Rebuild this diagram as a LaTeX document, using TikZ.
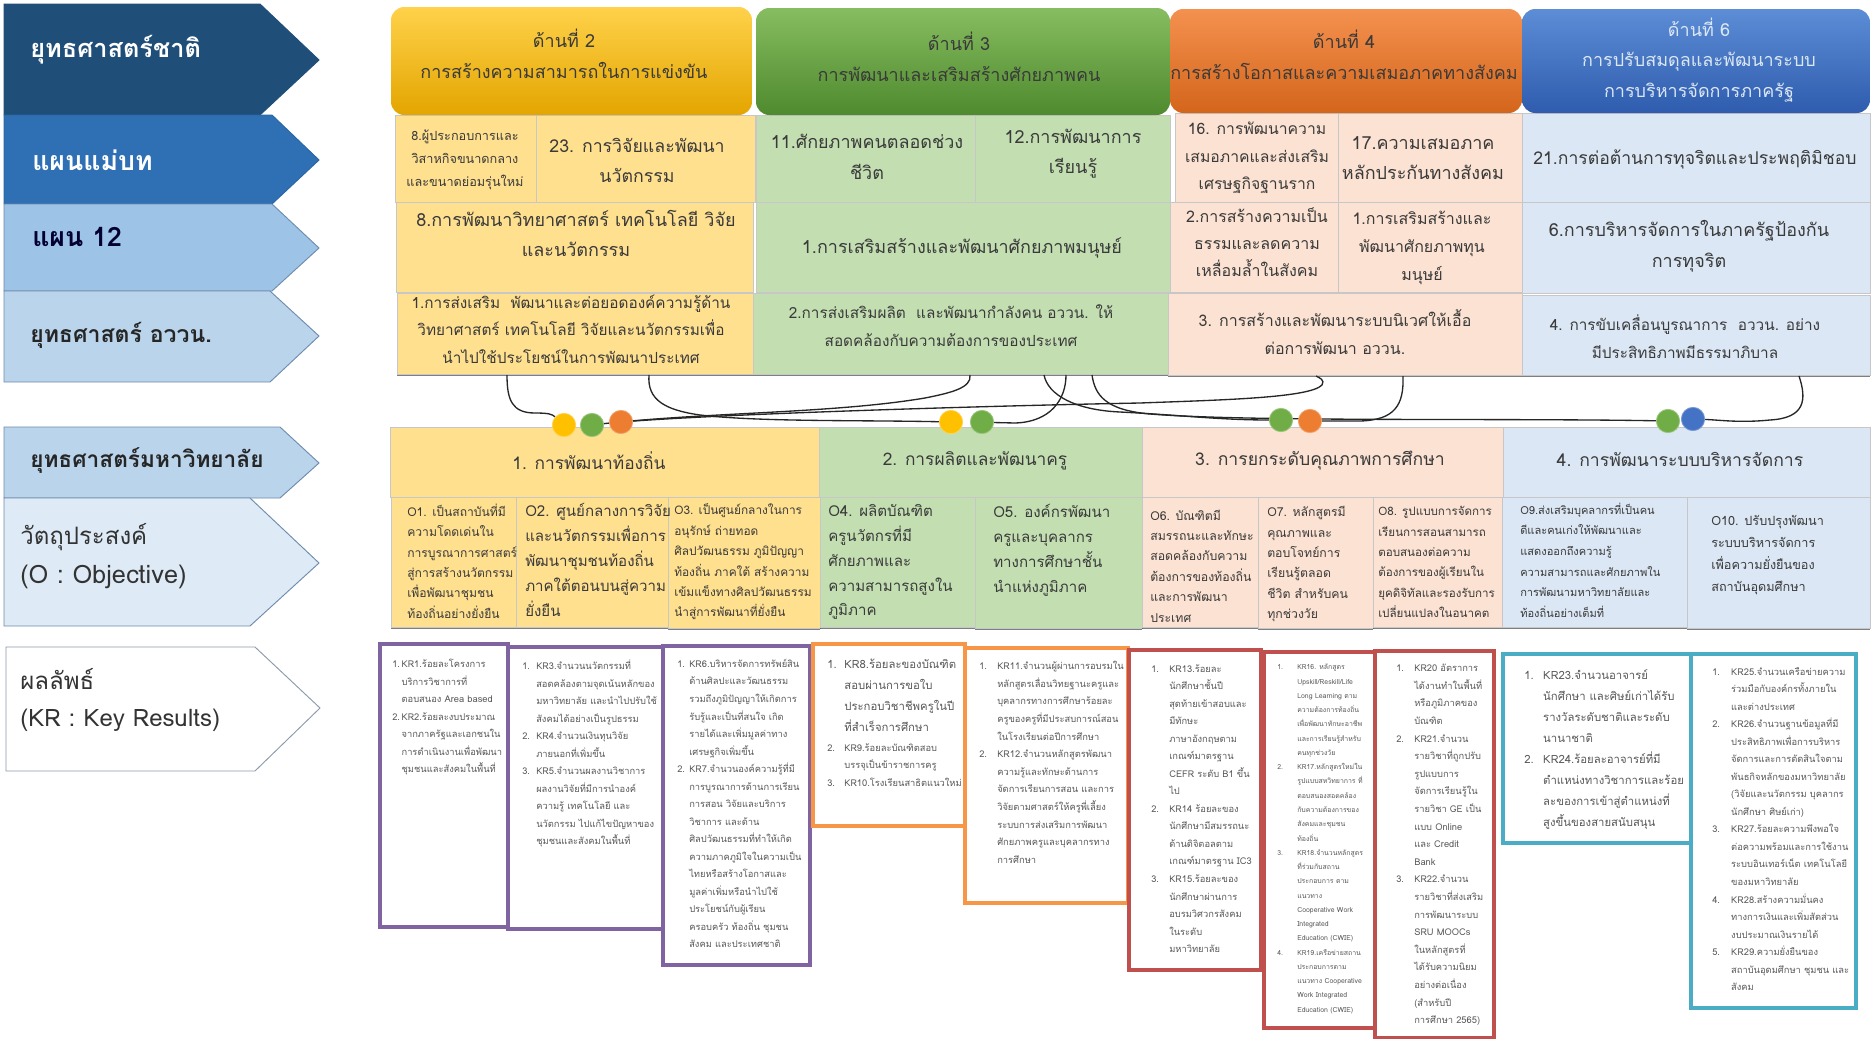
\documentclass[tikz,border=0pt]{standalone}
\usepackage{fontspec}
\usetikzlibrary{fit,shadows}
\pgfdeclarelayer{front}
\pgfsetlayers{main,front}
\setmainfont[Script=Thai]{Loma}
\newcommand\Fz[2]{\fontsize{#1}{#2}\selectfont}
\newlength\kind
\newcommand\KI[1]{\makebox[\kind][l]{#1}}
\newcommand\KC{\hspace*{\kind}}
\definecolor{tdark}{HTML}{3A3A3A}
\definecolor{kgray}{HTML}{595959}
\definecolor{cy}{HTML}{FFE08F}
\definecolor{cg}{HTML}{C3DFB2}
\definecolor{co}{HTML}{FBE2D2}
\definecolor{cb}{HTML}{DBE7F4}
\definecolor{kp}{HTML}{8064A2}
\definecolor{ko}{HTML}{F79646}
\definecolor{kr}{HTML}{C0504D}
\definecolor{kt}{HTML}{4BACC6}
\definecolor{ch1}{HTML}{1F4E79}
\definecolor{ch2}{HTML}{2E70B3}
\definecolor{ch2b}{HTML}{2A66A3}
\definecolor{ch3}{HTML}{9DC3E6}
\definecolor{ch4}{HTML}{BAD4EC}
\definecolor{ch6}{HTML}{DEEBF7}
\definecolor{chb}{HTML}{6E8CAD}
\definecolor{ch7b}{HTML}{8C9AAB}
\definecolor{hya}{HTML}{FFD24A}
\definecolor{hyb}{HTML}{FFC30F}
\definecolor{hyc}{HTML}{E3A500}
\definecolor{hga}{HTML}{86BD60}
\definecolor{hgb}{HTML}{70AD47}
\definecolor{hgc}{HTML}{4F8A2E}
\definecolor{hoa}{HTML}{F4914F}
\definecolor{hob}{HTML}{ED7D31}
\definecolor{hoc}{HTML}{D4651B}
\definecolor{hba}{HTML}{5C8DD6}
\definecolor{hbb}{HTML}{4472C4}
\definecolor{hbc}{HTML}{2F5CAE}
\definecolor{dtY}{HTML}{FFC000}
\tikzset{
  cell/.style={inner sep=0pt,outer sep=0pt,draw=black!22,line width=0.4pt,fill=#1},
  shd/.style={drop shadow={shadow xshift=0pt,shadow yshift=-1.5pt,fill=black,opacity=0.5}},
  head/.style n args={3}{inner sep=0pt,outer sep=0pt,rounded corners=10pt,top color=#1,middle color=#2,bottom color=#3},
  tc/.style 2 args={font=\Fz{#1}{#2},align=center,inner sep=0pt,text=tdark},
  tl/.style 2 args={font=\Fz{#1}{#2},align=left,inner sep=0pt,text=tdark,anchor=west},
  krbox/.style={inner sep=0pt,outer sep=0pt,draw=#1,line width=3pt,fill=white},
  krt/.style n args={3}{font=\Fz{#1}{#2},align=left,inner sep=0pt,text=kgray,anchor=north west,execute at begin node={\setlength{\kind}{#3}}},
  dot/.style={circle,inner sep=0pt,minimum size=17.5pt,fill=#1,draw=#1!70!white,line width=0.6pt},
  lnk/.style={line width=1pt,black!85},
  chev/.style 2 args={fill=#1,draw=#2,line width=0.7pt},
  lab/.style={inner sep=0pt,anchor=west,text=#1},
}
\begin{document}
\begin{tikzpicture}[x=0.75pt,y=-0.75pt]
\useasboundingbox (0,0) rectangle (1871,1039);
\fill[white] (0,0) rectangle (1871,1039);
% left chevrons
\draw[chev={ch1}{ch1}] (4,4) -- (260,4) -- (319,60) -- (260,115) -- (4,115) -- cycle;
\draw[chev={ch2}{ch2b}] (4,115) -- (272,115) -- (319,160) -- (272,204) -- (4,204) -- cycle;
\draw[chev={ch3}{chb}] (4,204) -- (272,204) -- (319,248) -- (272,291) -- (4,291) -- cycle;
\draw[chev={ch4}{chb}] (4,291) -- (270,291) -- (319,336) -- (270,382) -- (4,382) -- cycle;
\draw[chev={ch4}{chb}] (4,427) -- (280,427) -- (319,463) -- (280,498) -- (4,498) -- cycle;
\draw[chev={ch6}{chb}] (4,498) -- (250,498) -- (319,563) -- (250,626) -- (4,626) -- cycle;
\draw[chev={white}{ch7b}] (6,647) -- (255,647) -- (320,708) -- (255,771) -- (6,771) -- cycle;
\node[lab=white,font=\Fz{19}{19}\bfseries] (l1) at (30,50) {ยุทธศาสตร์ชาติ};
\node[lab=white,font=\Fz{20}{20}\bfseries] (l2) at (32,160) {แผนแม่บท};
\node[lab=black!80!blue,font=\Fz{20}{20}\bfseries] (l3) at (32,237) {แผน 12};
\node[lab=black!85,font=\Fz{17.3}{18}\bfseries] (l4) at (30,335) {ยุทธศาสตร์ อววน.};
\node[lab=black!85,font=\Fz{17}{18}\bfseries] (l5) at (30,460) {ยุทธศาสตร์มหาวิทยาลัย};
\node[lab=black!80,font=\Fz{18}{18}] (l6a) at (20,537) {วัตถุประสงค์};
\node[lab=black!80,font=\Fz{19}{19}] (l6b) at (20,577) {(O : Objective)};
\node[lab=black!80,font=\Fz{18}{18}] (l7a) at (20,679) {ผลลัพธ์};
\node[lab=black!80,font=\Fz{18}{18}] (l7b) at (20,720) {(KR : Key Results)};
% row 3 / 2 / 1
\node[fit={(397,293)(753,374)},cell=cy,shd] (r3y) {};
\node[fit={(753,293)(1168,374)},cell=cg,shd] (r3g) {};
\node[fit={(1168,293)(1522,375)},cell=co,shd] (r3o) {};
\node[fit={(1522,295)(1870,375)},cell=cb,shd] (r3b) {};
\node[fit={(396,202)(753,292)},cell=cy] (r2y) {};
\node[fit={(756,202)(1170,292)},cell=cg] (r2g) {};
\node[fit={(1170,202)(1338,292)},cell=co] (r2oa) {};
\node[fit={(1338,202)(1522,292)},cell=co] (r2ob) {};
\node[fit={(1522,202)(1870,293)},cell=cb] (r2b) {};
\node[fit={(395,115)(536,202)},cell=cy] (r1ya) {};
\node[fit={(536,115)(755,202)},cell=cy] (r1yb) {};
\node[fit={(756,115)(975,202)},cell=cg] (r1ga) {};
\node[fit={(975,115)(1170,202)},cell=cg] (r1gb) {};
\node[fit={(1175,113)(1338,202)},cell=co] (r1oa) {};
\node[fit={(1338,113)(1522,202)},cell=co] (r1ob) {};
\node[fit={(1522,113)(1870,202)},cell=cb] (r1b) {};
% headers
\node[fit={(391,7)(752,115)},head={hya}{hyb}{hyc}] (hy) {};
\node[fit={(756,8)(1170,115)},head={hga}{hgb}{hgc}] (hg) {};
\node[fit={(1170,9)(1522,113)},head={hoa}{hob}{hoc}] (ho) {};
\node[fit={(1522,9)(1870,113)},head={hba}{hbb}{hbc}] (hb) {};
\node[tc={13.5}{23}] (thy) at (564,54) {ด้านที่ 2\\การสร้างความสามารถในการแข่งขัน};
\node[tc={13.5}{23}] (thg) at (959,57) {ด้านที่ 3\\การพัฒนาและเสริมสร้างศักยภาพคน};
\node[tc={13.5}{23}] (tho) at (1344,55) {ด้านที่ 4\\การสร้างโอกาสและความเสมอภาคทางสังคม};
\node[tc={13.5}{23},text=cb] (thb) at (1699,60) {ด้านที่ 6\\การปรับสมดุลและพัฒนาระบบ\\การบริหารจัดการภาครัฐ};
% row 1 text
\node[tc={9.5}{17.5}] (t1) at (465,160) {8.ผู้ประกอบการและ\\วิสาหกิจขนาดกลาง\\และขนาดย่อมรุ่นใหม่};
\node[tc={13.3}{22.5}] (t2) at (637,160) {23. การวิจัยและพัฒนา\\นวัตกรรม};
\node[tc={13.5}{23}] (t3) at (867,157) {11.ศักยภาพคนตลอดช่วง\\ชีวิต};
\node[tc={13.5}{22.5}] (t4) at (1073,154) {12.การพัฒนาการ\\เรียนรู้};
\node[tc={11.8}{20.5}] (t5) at (1257,158) {16. การพัฒนาความ\\เสมอภาคและส่งเสริม\\เศรษฐกิจฐานราก};
\node[tc={13.5}{22.5}] (t6) at (1423,158) {17.ความเสมอภาค\\หลักประกันทางสังคม};
\node[tc={13.2}{22}] (t7) at (1695,159) {21.การต่อต้านการทุจริตและประพฤติมิชอบ};
% row 2 text
\node[tc={13.5}{22.5}] (t8) at (576,233) {8.การพัฒนาวิทยาศาสตร์ เทคโนโลยี วิจัย\\และนวัตกรรม};
\node[tc={13.5}{22}] (t9) at (962,248) {1.การเสริมสร้างและพัฒนาศักยภาพมนุษย์};
\node[tc={12}{20}] (t10) at (1257,242) {2.การสร้างความเป็น\\ธรรมและลดความ\\เหลื่อมล้ำในสังคม};
\node[tc={12}{20.8}] (t11) at (1422,248) {1.การเสริมสร้างและ\\พัฒนาศักยภาพทุน\\มนุษย์};
\node[tc={13.5}{23}] (t12) at (1689,246) {6.การบริหารจัดการในภาครัฐป้องกัน\\การทุจริต};
% row 3 text
\node[tc={11.5}{20.5}] (t13) at (571,329) {1.การส่งเสริม\ \ พัฒนาและต่อยอดองค์ความรู้ด้าน\\วิทยาศาสตร์ เทคโนโลยี วิจัยและนวัตกรรมเพื่อ\\นำไปใช้ประโยชน์ในการพัฒนาประเทศ};
\node[tc={11.5}{21}] (t14) at (951,326) {2.การส่งเสริมผลิต\ \ และพัฒนากำลังคน อววน. ให้\\สอดคล้องกับความต้องการของประเทศ};
\node[tc={12}{21}] (t15) at (1335,332) {3. การสร้างและพัฒนาระบบนิเวศให้เอื้อ\\ต่อการพัฒนา อววน.};
\node[tc={11.5}{21}] (t16) at (1685,337) {4. การขับเคลื่อนบูรณาการ\ \ อววน. อย่าง\\มีประสิทธิภาพมีธรรมาภิบาล};
% strategy
\node[fit={(390,427)(819,497)},cell=cy] (sy) {};
\node[fit={(819,427)(1142,497)},cell=cg] (sg) {};
\node[fit={(1142,427)(1503,497)},cell=co] (so) {};
\node[fit={(1503,427)(1870,497)},cell=cb] (sb) {};
\node[tc={13}{20}] (ts1) at (589,461) {1. การพัฒนาท้องถิ่น};
\node[tc={13}{20}] (ts2) at (975,461) {2. การผลิตและพัฒนาครู};
\node[tc={13.2}{20}] (ts3) at (1320,461) {3. การยกระดับคุณภาพการศึกษา};
\node[tc={13.2}{20}] (ts4) at (1680,459) {4. การพัฒนาระบบบริหารจัดการ};
% objectives
\node[fit={(391,497)(516,627)},cell=cy,shd] (o1) {};
\node[fit={(516,497)(668,627)},cell=cy,shd] (o2) {};
\node[fit={(668,497)(820,628)},cell=cy,shd] (o3) {};
\node[fit={(820,497)(975,627)},cell=cg,shd] (o4) {};
\node[fit={(975,497)(1142,628)},cell=cg,shd] (o5) {};
\node[fit={(1142,497)(1258,627)},cell=co,shd] (o6) {};
\node[fit={(1258,497)(1373,628)},cell=co,shd] (o7) {};
\node[fit={(1373,497)(1502,627)},cell=co,shd] (o8) {};
\node[fit={(1502,497)(1687,627)},cell=cb,shd] (o9) {};
\node[fit={(1687,497)(1870,628)},cell=cb,shd] (o10) {};
\node[tl={9.1}{15.3}] (to1) at (407,561) {O1. เป็นสถาบันที่มี\\ความโดดเด่นใน\\การบูรณาการศาสตร์\\สู่การสร้างนวัตกรรม\\เพื่อพัฒนาชุมชน\\ท้องถิ่นอย่างยั่งยืน};
\node[tl={11.3}{18.7}] (to2) at (525,560) {O2. ศูนย์กลางการวิจัย\\และนวัตกรรมเพื่อการ\\พัฒนาชุมชนท้องถิ่น\\ภาคใต้ตอนบนสู่ความ\\ยั่งยืน};
\node[tl={8.9}{15.3}] (to3) at (674,562) {O3. เป็นศูนย์กลางในการ\\อนุรักษ์ ถ่ายทอด\\ศิลปวัฒนธรรม ภูมิปัญญา\\ท้องถิ่น ภาคใต้ สร้างความ\\เข้มแข็งทางศิลปวัฒนธรรม\\นำสู่การพัฒนาที่ยั่งยืน};
\node[tl={11.3}{18.7}] (to4) at (828,562) {O4. ผลิตบัณฑิต\\ครูนวัตกรที่มี\\ศักยภาพและ\\ความสามารถสูงใน\\ภูมิภาค};
\node[tl={11.3}{18.7}] (to5) at (993,550) {O5. องค์กรพัฒนา\\ครูและบุคลากร\\ทางการศึกษาชั้น\\นำแห่งภูมิภาค};
\node[tl={9.2}{15.3}] (to6) at (1150,566) {O6. บัณฑิตมี\\สมรรถนะและทักษะ\\สอดคล้องกับความ\\ต้องการของท้องถิ่น\\และการพัฒนา\\ประเทศ};
\node[tl={9.2}{15.3}] (to7) at (1267,564) {O7. หลักสูตรมี\\คุณภาพและ\\ตอบโจทย์การ\\เรียนรู้ตลอด\\ชีวิต สำหรับคน\\ทุกช่วงวัย};
\node[tl={8.7}{15.3}] (to8) at (1378,562) {O8. รูปแบบการจัดการ\\เรียนการสอนสามารถ\\ตอบสนองต่อความ\\ต้องการของผู้เรียนใน\\ยุคดิจิทัลและรองรับการ\\เปลี่ยนแปลงในอนาคต};
\node[tl={8.3}{15.5}] (to9) at (1520,560) {O9.ส่งเสริมบุคลากรที่เป็นคน\\ดีและคนเก่งให้พัฒนาและ\\แสดงออกถึงความรู้\\ความสามารถและศักยภาพใน\\การพัฒนามหาวิทยาลัยและ\\ท้องถิ่นอย่างเต็มที่};
\node[tl={9.5}{16.7}] (to10) at (1711,555) {O10. ปรับปรุงพัฒนา\\ระบบบริหารจัดการ\\เพื่อความยั่งยืนของ\\สถาบันอุดมศึกษา};
% dots and connectors
\begin{pgfonlayer}{front}
\node[dot=dtY] (dy1) at (564,425) {};
\node[dot=hgb] (dg1) at (592,425) {};
\node[dot=hob] (do1) at (621,422) {};
\node[dot=dtY] (dy2) at (951,422) {};
\node[dot=hgb] (dg2) at (982,422) {};
\node[dot=hgb] (dg3) at (1281,420) {};
\node[dot=hob] (do3) at (1310,421) {};
\node[dot=hgb] (dg4) at (1668,421) {};
\node[dot=hbb] (db4) at (1693,419) {};
\end{pgfonlayer}
\coordinate (pa) at (507,375);
\coordinate (pb) at (1316,376);
\coordinate (pc) at (970,375);
\coordinate (pd) at (649,375);
\coordinate (pe) at (1066,375);
\coordinate (pf) at (1044,375);
\coordinate (pg) at (1092,375);
\coordinate (pi) at (1403,376);
\coordinate (ph) at (1799,376);
\draw[lnk] (pa) .. controls (507,400) and (512,413) .. (535,413) .. controls (548,413) and (552,414) .. (dy1);
\draw[lnk] (do1.center) .. controls (720,414) and (980,406) .. (1140,403) .. controls (1220,400) and (1310,398) .. (1322,385) .. controls (1325,380) and (1320,378) .. (pb);
\draw[lnk] (pc) .. controls (972,388) and (950,393) .. (925,398) .. controls (830,414) and (700,412) .. (dg1.center);
\draw[lnk] (pd) .. controls (647,400) and (665,410) .. (700,415) .. controls (760,422) and (860,420) .. (dy2);
\draw[lnk] (pe) .. controls (1066,400) and (1050,422) .. (1015,423) .. controls (1005,423) .. (dg2);
\draw[lnk] (pf) .. controls (1048,395) and (1075,410) .. (1120,412) .. controls (1180,415) and (1220,420) .. (dg3);
\draw[lnk] (pg) .. controls (1095,395) and (1105,410) .. (1150,414) .. controls (1250,422) and (1500,418) .. (dg4);
\draw[lnk] (pi) .. controls (1404,405) and (1395,420) .. (1360,421) .. controls (1345,421) .. (do3);
\draw[lnk] (ph) .. controls (1807,400) and (1805,418) .. (1770,420) .. controls (1740,423) and (1720,420) .. (db4);
% KR boxes
\node[fit={(380,644)(508,927)},krbox=kp] (k1) {};
\node[fit={(508,647)(663,929)},krbox=kp] (k2) {};
\node[fit={(663,646)(810,965)},krbox=kp] (k3) {};
\node[fit={(813,644)(965,826)},krbox=ko] (k4) {};
\node[fit={(965,648)(1128,903)},krbox=ko] (k5) {};
\node[fit={(1129,650)(1261,970)},krbox=kr] (k6) {};
\node[fit={(1264,652)(1375,1028)},krbox=kr] (k7) {};
\node[fit={(1375,651)(1494,1038)},krbox=kr] (k8) {};
\node[fit={(1503,654)(1691,843)},krbox=kt] (k9) {};
\node[fit={(1691,654)(1856,1008)},krbox=kt] (k10) {};
\node[krt={7}{13.1}{7pt}] (tk1) at (392,659) {\KI{1.}KR1.ร้อยละโครงการ\\\KC บริการวิชาการที่\\\KC ตอบสนอง Area based\\\KI{2.}KR2.ร้อยละงบประมาณ\\\KC จากภาครัฐและเอกชนใน\\\KC การดำเนินงานเพื่อพัฒนา\\\KC ชุมชนและสังคมในพื้นที่};
\node[krt={7}{13.1}{10.5pt}] (tk2) at (522,660) {\KI{1.}KR3.จำนวนนวัตกรรมที่\\\KC สอดคล้องตามจุดเน้นหลักของ\\\KC มหาวิทยาลัย และนำไปปรับใช้\\\KC สังคมได้อย่างเป็นรูปธรรม\\\KI{2.}KR4.จำนวนเงินทุนวิจัย\\\KC ภายนอกที่เพิ่มขึ้น\\\KI{3.}KR5.จำนวนผลงานวิชาการ\\\KC ผลงานวิจัยที่มีการนำองค์\\\KC ความรู้ เทคโนโลยี และ\\\KC นวัตกรรม ไปแก้ไขปัญหาของ\\\KC ชุมชนและสังคมในพื้นที่};
\node[krt={7}{13.15}{9pt}] (tk3) at (677,659) {\KI{1.}KR6.บริหารจัดการทรัพย์สิน\\\KC ด้านศิลปะและวัฒนธรรม\\\KC รวมถึงภูมิปัญญาให้เกิดการ\\\KC รับรู้และเป็นที่สนใจ เกิด\\\KC รายได้และเพิ่มมูลค่าทาง\\\KC เศรษฐกิจเพิ่มขึ้น\\\KI{2.}KR7.จำนวนองค์ความรู้ที่มี\\\KC การบูรณาการด้านการเรียน\\\KC การสอน วิจัยและบริการ\\\KC วิชาการ และด้าน\\\KC ศิลปวัฒนธรรมที่ทำให้เกิด\\\KC ความภาคภูมิใจในความเป็น\\\KC ไทยหรือสร้างโอกาสและ\\\KC มูลค่าเพิ่มหรือนำไปใช้\\\KC ประโยชน์กับผู้เรียน\\\KC ครอบครัว ท้องถิ่น ชุมชน\\\KC สังคม และประเทศชาติ};
\node[krt={8.5}{15.8}{12.8pt}] (tk4a) at (827,659) {\KI{1.}KR8.ร้อยละของบัณฑิต\\\KC สอบผ่านการขอใบ\\\KC ประกอบวิชาชีพครูในปี\\\KC ที่สำเร็จการศึกษา};
\node[krt={7}{13.1}{12.8pt}] (tk4b) at (827,743) {\KI{2.}KR9.ร้อยละบัณฑิตสอบ\\\KC บรรจุเป็นข้าราชการครู\\\KI{3.}KR10.โรงเรียนสาธิตแนวใหม่};
\node[krt={7}{13.2}{13.5pt}] (tk5) at (979,661) {\KI{1.}KR11.จำนวนผู้ผ่านการอบรมใน\\\KC หลักสูตรเลื่อนวิทยฐานะครูและ\\\KC บุคลากรทางการศึกษาร้อยละ\\\KC ครูของครูที่มีประสบการณ์สอน\\\KC ในโรงเรียนต่อปีการศึกษา\\\KI{2.}KR12.จำนวนหลักสูตรพัฒนา\\\KC ความรู้และทักษะด้านการ\\\KC จัดการเรียนการสอน และการ\\\KC วิจัยตามศาสตร์ให้ครูพี่เลี้ยง\\\KC ระบบการส่งเสริมการพัฒนา\\\KC ศักยภาพครูและบุคลากรทาง\\\KC การศึกษา};
\node[krt={7}{13.15}{13.5pt}] (tk6) at (1151,664) {\KI{1.}KR13.ร้อยละ\\\KC นักศึกษาชั้นปี\\\KC สุดท้ายเข้าสอบและ\\\KC มีทักษะ\\\KC ภาษาอังกฤษตาม\\\KC เกณฑ์มาตรฐาน\\\KC CEFR ระดับ B1 ขึ้น\\\KC ไป\\\KI{2.}KR14 ร้อยละของ\\\KC นักศึกษามีสมรรถนะ\\\KC ด้านดิจิตอลตาม\\\KC เกณฑ์มาตรฐาน IC3\\\KI{3.}KR15.ร้อยละของ\\\KC นักศึกษาผ่านการ\\\KC อบรมวิศวกรสังคม\\\KC ในระดับ\\\KC มหาวิทยาลัย};
\node[krt={5.2}{10.7}{15pt}] (tk7) at (1277,664) {\KI{1.}KR16. หลักสูตร\\\KC Upskill/Reskill/Life\\\KC Long Learning ตาม\\\KC ความต้องการท้องถิ่น\\\KC เพื่อพัฒนาทักษะอาชีพ\\\KC และการเรียนรู้สำหรับ\\\KC คนทุกช่วงวัย\\\KI{2.}KR17.หลักสูตรใหม่ใน\\\KC รูปแบบสหวิทยาการ ที่\\\KC ตอบสนองสอดคล้อง\\\KC กับความต้องการของ\\\KC สังคมและชุมชน\\\KC ท้องถิ่น\\\KI{3.}KR18.จำนวนหลักสูตร\\\KC ที่ร่วมกับสถาน\\\KC ประกอบการ ตาม\\\KC แนวทาง\\\KC Cooperative Work\\\KC Integrated\\\KC Education (CWIE)\\\KI{4.}KR19.เครือข่ายสถาน\\\KC ประกอบการตาม\\\KC แนวทาง Cooperative\\\KC Work Integrated\\\KC Education (CWIE)};
\node[krt={7}{13.2}{13.5pt}] (tk8) at (1396,664) {\KI{1.}KR20 อัตราการ\\\KC ได้งานทำในพื้นที่\\\KC หรือภูมิภาคของ\\\KC บัณฑิต\\\KI{2.}KR21.จำนวน\\\KC รายวิชาที่ถูกปรับ\\\KC รูปแบบการ\\\KC จัดการเรียนรู้ใน\\\KC รายวิชา GE เป็น\\\KC แบบ Online\\\KC และ Credit\\\KC Bank\\\KI{3.}KR22.จำนวน\\\KC รายวิชาที่ส่งเสริม\\\KC การพัฒนาระบบ\\\KC SRU MOOCs\\\KC ในหลักสูตรที่\\\KC ได้รับความนิยม\\\KC อย่างต่อเนื่อง\\\KC (สำหรับปี\\\KC การศึกษา 2565)};
\node[krt={8.5}{15.8}{14.2pt}] (tk9) at (1524,669) {\KI{1.}KR23.จำนวนอาจารย์\\\KC นักศึกษา และศิษย์เก่าได้รับ\\\KC รางวัลระดับชาติและระดับ\\\KC นานาชาติ\\\KI{2.}KR24.ร้อยละอาจารย์ที่มี\\\KC ตำแหน่งทางวิชาการและร้อย\\\KC ละของการเข้าสู่ตำแหน่งที่\\\KC สูงขึ้นของสายสนับสนุน};
\node[krt={7}{13.15}{14.2pt}] (tk10) at (1712,667) {\KI{1.}KR25.จำนวนเครือข่ายความ\\\KC ร่วมมือกับองค์กรทั้งภายใน\\\KC และต่างประเทศ\\\KI{2.}KR26.จำนวนฐานข้อมูลที่มี\\\KC ประสิทธิภาพเพื่อการบริหาร\\\KC จัดการและการตัดสินใจตาม\\\KC พันธกิจหลักของมหาวิทยาลัย\\\KC (วิจัยและนวัตกรรม บุคลากร\\\KC นักศึกษา ศิษย์เก่า)\\\KI{3.}KR27.ร้อยละความพึงพอใจ\\\KC ต่อความพร้อมและการใช้งาน\\\KC ระบบอินเทอร์เน็ต เทคโนโลยี\\\KC ของมหาวิทยาลัย\\\KI{4.}KR28.สร้างความมั่นคง\\\KC ทางการเงินและเพิ่มสัดส่วน\\\KC งบประมาณเงินรายได้\\\KI{5.}KR29.ความยั่งยืนของ\\\KC สถาบันอุดมศึกษา ชุมชน และ\\\KC สังคม};
\end{tikzpicture}
\end{document}
